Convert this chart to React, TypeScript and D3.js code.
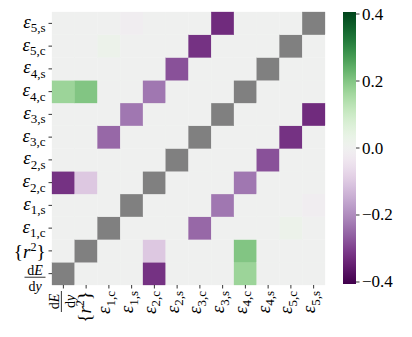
import React from 'react';
import * as d3 from 'd3';

// variables in matrix order (bottom row / left column first)
const variables = ['dE/dy', '{r^2}', '1,c', '1,s', '2,c', '2,s', '3,c', '3,s', '4,c', '4,s', '5,c', '5,s'];

// off-diagonal correlations: [i, j, value]
const pairs: [number, number, number][] = [
  [0, 4, -0.32],
  [0, 8, 0.17],
  [1, 4, -0.1],
  [1, 8, 0.2],
  [2, 6, -0.25],
  [2, 10, 0.02],
  [3, 7, -0.23],
  [3, 11, -0.015],
  [4, 8, -0.23],
  [5, 9, -0.28],
  [6, 10, -0.32],
  [7, 11, -0.33],
];

const colorbarTicks = [-0.4, -0.2, 0, 0.2, 0.4];
const vmax = 0.406;

const width = 412;
const height = 337;
const plot = { left: 52, right: 325, top: 12, bottom: 285 };
const cbar = { x: 343, w: 13, top: 12, bottom: 284 };
const serif = '"Liberation Serif", "DejaVu Serif", serif';

// build full symmetric matrix, null on diagonal
const matrix: (number | null)[][] = variables.map((_, i) =>
  variables.map((_, j) => (i === j ? null : 0))
);
pairs.forEach(([i, j, v]) => {
  matrix[i][j] = v;
  matrix[j][i] = v;
});

const color = d3.scaleDiverging(d3.interpolatePRGn).domain([-vmax, 0, vmax]);

// draws a label with its end at local x = 0, baseline at local y = b
const Label = ({ v, b }: { v: string; b: number }) => {
  if (v === 'dE/dy') {
    return (
      <g fontFamily={serif} fontSize={14} fill="#000">
        <text x={-10.5} y={b - 3.5} textAnchor="middle">
          d<tspan fontStyle="italic">E</tspan>
        </text>
        <line x1={-21} x2={0} y1={b - 1} y2={b - 1} stroke="#000" strokeWidth={0.8} />
        <text x={-10.5} y={b + 12.5} textAnchor="middle">
          d<tspan fontStyle="italic">y</tspan>
        </text>
      </g>
    );
  }
  if (v === '{r^2}') {
    return (
      <text x={0} y={b} textAnchor="end" fontFamily={serif} fontSize={19} fill="#000">
        {'{'}
        <tspan fontStyle="italic">r</tspan>
        <tspan fontSize={12} dy={-7}>2</tspan>
        <tspan dy={7}>{'}'}</tspan>
      </text>
    );
  }
  return (
    <text x={0} y={b} textAnchor="end" fontFamily={serif} fontSize={19} fill="#000">
      <tspan fontStyle="italic">ε</tspan>
      <tspan fontSize={13} dy={4.5}>{v}</tspan>
    </text>
  );
};

const yShift = (v: string) => (v === '{r^2}' ? 7.5 : 4.6);
const xShift = (v: string) => (v === '{r^2}' ? 5 : v === 'dE/dy' ? -1 : 1.5);

const App = () => {
  const x = d3.scaleBand<number>().domain(d3.range(variables.length)).range([plot.left, plot.right]);
  // first variable at the bottom
  const y = d3
    .scaleBand<number>()
    .domain(d3.range(variables.length).reverse())
    .range([plot.top, plot.bottom]);
  const cy = d3.scaleLinear().domain([-vmax, vmax]).range([cbar.bottom, cbar.top]);
  const fmt = d3.format('.1f');
  const stops = d3.range(0, 1.0001, 0.02);

  return (
    <div style={{ position: 'absolute', left: 0, top: 0 }}>
      <svg width={width} height={height} style={{ display: 'block', background: '#fff' }}>
        <defs>
          <linearGradient id="cbar" x1="0" y1="1" x2="0" y2="0">
            {stops.map((t) => (
              <stop key={t} offset={t} stopColor={d3.interpolatePRGn(t)} />
            ))}
          </linearGradient>
        </defs>

        {/* cells */}
        {matrix.map((row, i) =>
          row.map((v, j) => (
            <rect
              key={`${i}-${j}`}
              x={x(j)}
              y={y(i)}
              width={x.bandwidth()}
              height={y.bandwidth()}
              fill={v === null ? '#808080' : color(v)}
              stroke={v === null ? '#808080' : color(v)}
              strokeWidth={0.3}
            />
          ))
        )}

        {/* y axis */}
        {variables.map((v, i) => {
          const c = (y(i) as number) + y.bandwidth() / 2;
          return (
            <g key={`y-${v}`}>
              <line x1={plot.left - 3.5} x2={plot.left} y1={c} y2={c} stroke="#000" strokeWidth={0.8} />
              <g transform={`translate(45.5,${c})`}>
                <Label v={v} b={yShift(v)} />
              </g>
            </g>
          );
        })}

        {/* x axis */}
        {variables.map((v, j) => {
          const c = (x(j) as number) + x.bandwidth() / 2;
          return (
            <g key={`x-${v}`}>
              <line x1={c} x2={c} y1={plot.bottom} y2={plot.bottom + 3.5} stroke="#000" strokeWidth={0.8} />
              <g transform={`translate(${c},291) rotate(-90)`}>
                <Label v={v} b={xShift(v)} />
              </g>
            </g>
          );
        })}

        {/* colorbar */}
        <rect x={cbar.x} y={cbar.top} width={cbar.w} height={cbar.bottom - cbar.top} fill="url(#cbar)" />
        {colorbarTicks.map((t) => (
          <g key={`cb-${t}`}>
            <line
              x1={cbar.x + cbar.w}
              x2={cbar.x + cbar.w + 3.5}
              y1={cy(t)}
              y2={cy(t)}
              stroke="#000"
              strokeWidth={0.8}
            />
            <text x={cbar.x + cbar.w + 6} y={cy(t) + 5.5} fontFamily={serif} fontSize={17} fill="#000">
              {fmt(t)}
            </text>
          </g>
        ))}
      </svg>
    </div>
  );
};

export default App;
